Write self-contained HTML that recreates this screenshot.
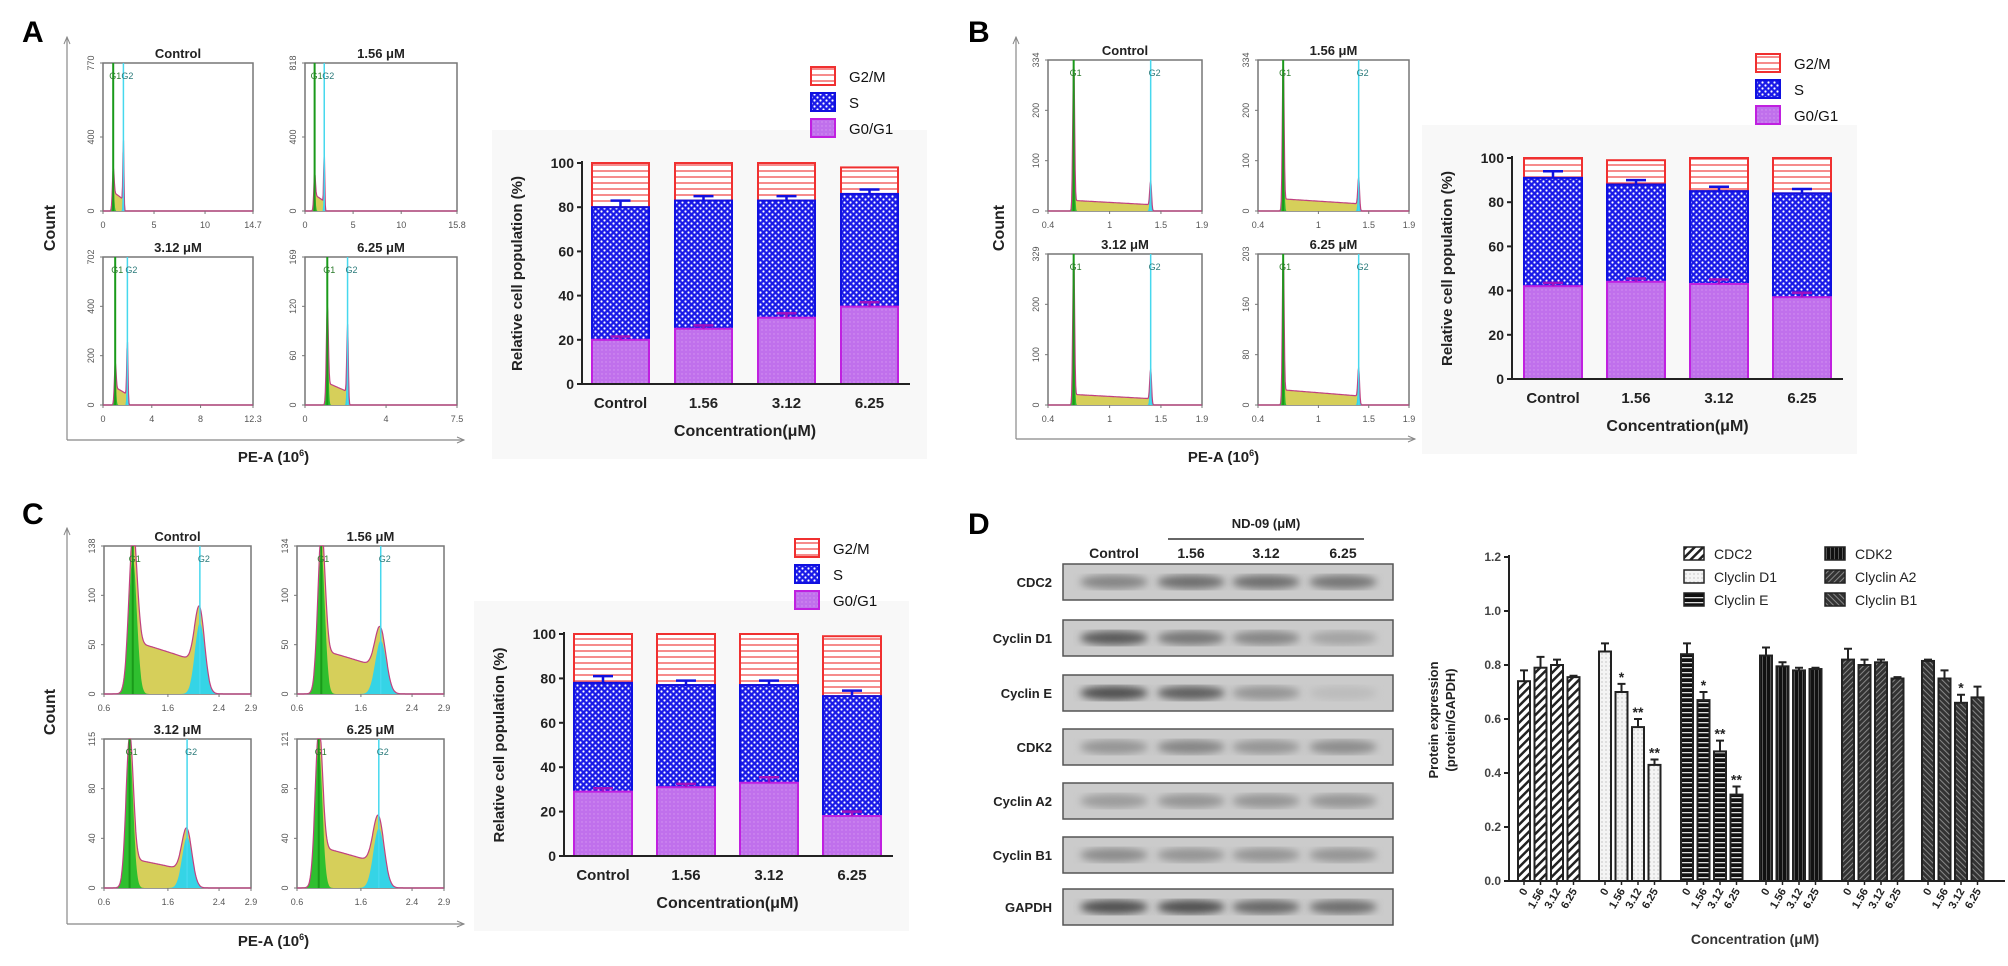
<!DOCTYPE html>
<html><head><meta charset="utf-8">
<style>
html,body{margin:0;padding:0;background:#fff;}
svg{display:block;font-family:"Liberation Sans",Arial,sans-serif;}
</style></head>
<body>
<svg id="fig" width="2008" height="966" viewBox="0 0 2008 966" xmlns="http://www.w3.org/2000/svg">
<defs>
<pattern id="pG2" width="6" height="6" patternUnits="userSpaceOnUse"><rect width="6" height="6" fill="#fff"/><line x1="0" y1="3" x2="6" y2="3" stroke="#f04040" stroke-width="1.2"/></pattern>
<pattern id="pS" width="6" height="6" patternUnits="userSpaceOnUse"><rect width="6" height="6" fill="#1a1ae8"/><circle cx="1.5" cy="1.5" r="1.1" fill="#fff"/><circle cx="4.5" cy="4.5" r="1.1" fill="#fff"/></pattern>
<pattern id="pG1" width="4" height="4" patternUnits="userSpaceOnUse"><rect width="4" height="4" fill="#c070ec"/><circle cx="2" cy="2" r="0.7" fill="#d596f2"/></pattern>
<pattern id="pCDC2" width="6" height="6" patternUnits="userSpaceOnUse" patternTransform="rotate(45)"><rect width="6" height="6" fill="#fff"/><rect width="2.5" height="6" fill="#222"/></pattern>
<pattern id="pD1" width="4" height="4" patternUnits="userSpaceOnUse"><rect width="4" height="4" fill="#f4f4f4"/><circle cx="2" cy="2" r="0.6" fill="#aaa"/></pattern>
<pattern id="pE" width="6" height="5" patternUnits="userSpaceOnUse"><rect width="6" height="5" fill="#111"/><rect y="2" width="6" height="1.3" fill="#ddd"/></pattern>
<pattern id="pCDK2" width="4" height="4" patternUnits="userSpaceOnUse"><rect width="4" height="4" fill="#111"/><rect x="2" width="0.8" height="4" fill="#666"/></pattern>
<pattern id="pA2" width="4" height="4" patternUnits="userSpaceOnUse" patternTransform="rotate(45)"><rect width="4" height="4" fill="#333"/><rect width="1" height="4" fill="#888"/></pattern>
<pattern id="pB1" width="4" height="4" patternUnits="userSpaceOnUse" patternTransform="rotate(-45)"><rect width="4" height="4" fill="#333"/><rect width="1" height="4" fill="#888"/></pattern>
<filter id="blur3"><feGaussianBlur stdDeviation="4"/></filter>
</defs>
</svg>
<script>
// ===== Data =====
const phases = ['G0/G1','S','G2/M'];
const concLabels = ['Control','1.56','3.12','6.25'];
// Panel A stacked bars (cumulative tops, %)
const aG1 = [20,25,30,35];
const aS  = [80,83,83,86];
const aG2 = [100,100,100,98];
const aG1err = [1.5,1.5,2,2];
const aSerr = [3,2,2,2];
// Panel B
const bG1 = [42,44,43,37];
const bS  = [91,88,85,84];
const bG2 = [100,99,100,100];
const bG1err = [1.5,1.5,2,2];
const bSerr = [3,2,2,2];
// Panel C
const cG1 = [29,31,33,18];
const cS  = [78,77,77,72];
const cG2 = [100,100,100,99];
const cG1err = [1.5,1.5,2.5,2];
const cSerr = [3,2,2,2.5];
const pctTicks = [0,20,40,60,80,100];
// Panel D protein expression
const proteins = ['CDC2','Clyclin D1','Clyclin E','CDK2','Clyclin A2','Clyclin B1'];
const doseLabels = ['0','1.56','3.12','6.25'];
const cdc2 = [0.74,0.79,0.80,0.755];
const cyclinD1 = [0.85,0.70,0.57,0.43];
const cyclinE = [0.84,0.67,0.48,0.32];
const cdk2 = [0.835,0.795,0.78,0.785];
const cyclinA2 = [0.82,0.80,0.81,0.75];
const cyclinB1 = [0.815,0.75,0.66,0.68];
const cdc2Err = [0.04,0.04,0.02,0.005];
const cyclinD1Err = [0.03,0.03,0.03,0.02];
const cyclinEErr = [0.04,0.03,0.04,0.03];
const cdk2Err = [0.03,0.015,0.01,0.005];
const cyclinA2Err = [0.04,0.02,0.01,0.005];
const cyclinB1Err = [0.005,0.03,0.03,0.04];
const cyclinD1Sig = ['','*','**','**'];
const cyclinESig = ['','*','**','**'];
const cyclinB1Sig = ['','','*',''];
const expTicks = [0,0.2,0.4,0.6,0.8,1.0,1.2];
// Western blot band intensities (0..1 darkness)
const blotRows = ['CDC2','Cyclin D1','Cyclin E','CDK2','Cyclin A2','Cyclin B1','GAPDH'];
const blotCDC2 = [0.45,0.6,0.6,0.55];
const blotD1 = [0.75,0.55,0.45,0.25];
const blotE = [0.8,0.7,0.35,0.08];
const blotCDK2 = [0.35,0.45,0.35,0.4];
const blotA2 = [0.3,0.35,0.35,0.35];
const blotB1 = [0.4,0.35,0.35,0.35];
const blotGAPDH = [0.8,0.8,0.65,0.6];
// Histogram parameters: [xmin,xmax,G1pos,G2pos,G1height,G2height,Slevel,G1sigma,G2sigma]
const histA = [[0,14.7,1.0,2.0,0.22,0.45,0.13,0.12,0.07],[0,15.8,1.0,2.0,0.2,0.38,0.11,0.12,0.07],[0,12.3,1.0,2.0,0.22,0.4,0.12,0.1,0.07],[0,7.5,1.1,2.1,0.6,0.5,0.15,0.07,0.05]];
const histB = [[0.4,1.9,0.65,1.4,1.0,0.18,0.07,0.012,0.012],[0.4,1.9,0.65,1.4,1.0,0.2,0.08,0.012,0.012],[0.4,1.9,0.65,1.4,1.0,0.22,0.07,0.012,0.012],[0.4,1.9,0.65,1.4,1.0,0.22,0.1,0.012,0.012]];
const histC = [[0.6,2.9,1.05,2.1,0.92,0.48,0.36,0.09,0.11],[0.6,2.9,0.98,1.91,0.96,0.36,0.3,0.08,0.12],[0.6,2.9,1.0,1.9,0.93,0.34,0.2,0.08,0.11],[0.6,2.9,0.94,1.88,0.95,0.4,0.28,0.08,0.12]];
const histTitles = ['Control','1.56 μM','3.12 μM','6.25 μM'];
const histXticksA = [[0,5,10,14.7],[0,5,10,15.8],[0,4,8,12.3],[0,4,7.5]];
const histYticksA = [['0','400','770'],['0','400','818'],['0','200','400','702'],['0','60','120','169']];
const histXticksB = [0.4,1,1.5,1.9];
const histYticksB = [['0','100','200','334'],['0','100','200','334'],['0','100','200','329'],['0','80','160','203']];
const histXticksC = [0.6,1.6,2.4,2.9];
const histYticksC = [['0','50','100','138'],['0','50','100','134'],['0','40','80','115'],['0','40','80','121']];

// ===== Helpers =====
const NS='http://www.w3.org/2000/svg';
const svg=document.getElementById('fig');
function mk(tag, attrs, parent, name){
  const e=document.createElementNS(NS,tag);
  for(const k in attrs) e.setAttribute(k,attrs[k]);
  
  
  (parent||svg).appendChild(e);
  return e;
}
function txt(x,y,s,size,parent,name,extra){
  const a=Object.assign({x:x,y:y,'font-size':size,'font-weight':'bold',fill:'#222'},extra||{});
  const t=mk('text',a,parent,name);
  t.textContent=s;
  return t;
}
function grp(name){ return mk('g',{},svg,name); }

// ===== Panel letters =====
txt(22,42,'A',30,svg,'panel-a-label',{fill:'#000'});
txt(968,42,'B',30,svg,'panel-b-label',{fill:'#000'});
txt(22,524,'C',30,svg,'panel-c-label',{fill:'#000'});
txt(968,534,'D',30,svg,'panel-d-label',{fill:'#000'});

// ===== Histograms =====
function histogram(g,bx,by,bw,bh,p,title,xt,yt,name){
  const [xmin,xmax,g1,g2,h1,h2,sl,s1,s2]=p;
  const X=v=>bx+(v-xmin)/(xmax-xmin)*bw;
  mk('rect',{x:bx,y:by,width:bw,height:bh,fill:'#fff',stroke:'#777','stroke-width':1.5},g,name+'-frame');
  txt(bx+bw/2,by-5,title,13,g,name+'-title',{'text-anchor':'middle'});
  const yOf=f=>by+bh-Math.min(f,1.0)*bh;
  const sig=z=>1/(1+Math.exp(-z));
  const N=300;
  let ptsAll=[],ptsG1=[],ptsG2=[];
  for(let i=0;i<=N;i++){
    const v=xmin+(xmax-xmin)*i/N;
    const a=h1*Math.exp(-Math.pow((v-g1)/s1,2));
    const b=h2*Math.exp(-Math.pow((v-g2)/s2,2));
    const t=Math.max(0,Math.min(1,(v-g1)/(g2-g1)));
    const s=sl*(1-0.4*t)*sig((v-g1)/(s1*0.5))*sig((g2-v)/(s2*0.5));
    ptsAll.push([X(v),yOf(a+b+s)]);ptsG1.push([X(v),yOf(a)]);ptsG2.push([X(v),yOf(b)]);
  }
  const toPath=pts=>'M'+bx+','+(by+bh)+' '+pts.map(q=>'L'+q[0].toFixed(1)+','+q[1].toFixed(1)).join(' ')+' L'+(bx+bw)+','+(by+bh)+'Z';
  mk('path',{d:toPath(ptsAll),fill:'#d6cf5a',stroke:'none'},g,name+'-s-phase-area');
  mk('path',{d:toPath(ptsG1),fill:'#2fbf2f',stroke:'none'},g,name+'-g1-peak');
  mk('path',{d:toPath(ptsG2),fill:'#35d4e6',stroke:'none'},g,name+'-g2-peak');
  mk('path',{d:'M'+ptsAll.map(q=>q[0].toFixed(1)+','+q[1].toFixed(1)).join(' L'),fill:'none',stroke:'#c04080','stroke-width':1.2},g,name+'-outline');
  mk('line',{x1:X(g1),y1:by,x2:X(g1),y2:by+bh,stroke:'#1a9a1a','stroke-width':2},g,name+'-g1-marker');
  mk('line',{x1:X(g2),y1:by,x2:X(g2),y2:by+bh,stroke:'#46d8ee','stroke-width':1.5},g,name+'-g2-marker');
  txt(X(g1)-4,by+16,'G1',9,g,name+'-g1-label',{fill:'#2a7a2a','font-weight':'normal'});
  txt(X(g2)-2,by+16,'G2',9,g,name+'-g2-label',{fill:'#2a7a7a','font-weight':'normal'});
  xt.forEach(v=>{
    mk('line',{x1:X(v),y1:by+bh,x2:X(v),y2:by+bh+3,stroke:'#777'},g,name+'-xtick');
    txt(X(v),by+bh+17,String(v),9,g,name+'-xtick-label',{'text-anchor':'middle','font-weight':'normal',fill:'#555'});
  });
  const n=yt.length;
  yt.forEach((s,i)=>{
    const yy=by+bh-bh*i/(n-1);
    mk('line',{x1:bx-3,y1:yy,x2:bx,y2:yy,stroke:'#777'},g,name+'-ytick');
    txt(bx-9,yy,s,9,g,name+'-ytick-label',{'text-anchor':'middle','font-weight':'normal',fill:'#555',transform:'rotate(-90 '+(bx-9)+' '+yy+')'});
  });
}
function histPanel(boxes,params,xtk,ytk,prefix,axX,axTop,axBot,axRight,peY,cntY){
  const g=grp(prefix+'-histograms');
  mk('line',{x1:axX,y1:axBot,x2:axX,y2:axTop,stroke:'#888','stroke-width':1.2},g,prefix+'-count-axis');
  mk('path',{d:`M${axX-3},${axTop+7} L${axX},${axTop} L${axX+3},${axTop+7}`,fill:'none',stroke:'#888'},g,prefix+'-count-arrow');
  mk('line',{x1:axX,y1:axBot,x2:axRight,y2:axBot,stroke:'#888','stroke-width':1.2},g,prefix+'-pe-axis');
  mk('path',{d:`M${axRight-7},${axBot-3} L${axRight},${axBot} L${axRight-7},${axBot+3}`,fill:'none',stroke:'#888'},g,prefix+'-pe-arrow');
  txt(axX-12,cntY,'Count',16,g,prefix+'-count-title',{'text-anchor':'middle',transform:`rotate(-90 ${axX-12} ${cntY})`});
  const pe=txt((axX+axRight)/2+8,peY,'PE-A (10',15,g,prefix+'-pe-title',{'text-anchor':'middle'});
  const sup=document.createElementNS(NS,'tspan');sup.setAttribute('font-size','9');sup.setAttribute('dy','-6');sup.textContent='6';pe.appendChild(sup);
  const cl=document.createElementNS(NS,'tspan');cl.setAttribute('dy','6');cl.textContent=')';pe.appendChild(cl);
  boxes.forEach((b,i)=>histogram(g,b[0],b[1],b[2],b[3],params[i],histTitles[i],Array.isArray(xtk[0])?xtk[i]:xtk,ytk[i],prefix+'-hist-'+i));
}
histPanel([[103,63,150,148],[305,63,152,148],[103,257,150,148],[305,257,152,148]],histA,histXticksA,histYticksA,'a',67,37,440,464,462,228);
histPanel([[1048,60,154,151],[1258,60,151,151],[1048,254,154,151],[1258,254,151,151]],histB,histXticksB,histYticksB,'b',1016,37,439,1415,462,228);
histPanel([[104,546,147,148],[297,546,147,148],[104,739,147,149],[297,739,147,149]],histC,histXticksC,histYticksC,'c',67,528,924,464,946,712);

// ===== Stacked bar charts =====
function stackChart(prefix,axX,y0,y100,firstX,pitch,bw,G1,S,G2,G1e,Se,legX,legY){
  const g=grp(prefix+'-stacked-chart');
  mk('rect',{x:axX-90,y:y100-33,width:435,height:y0+75-(y100-33),fill:'#f8f8f8'},g,prefix+'-chart-background');
  const Y=v=>y0-(y0-y100)*v/100;
  G1.forEach((v,i)=>{
    const x=firstX+i*pitch;
    mk('rect',{x:x,y:Y(G2[i]),width:bw,height:Y(S[i])-Y(G2[i]),fill:'url(#pG2)',stroke:'#f03030','stroke-width':2},g,prefix+'-bar-g2m-'+i);
    mk('rect',{x:x,y:Y(S[i]),width:bw,height:Y(v)-Y(S[i]),fill:'url(#pS)',stroke:'#1010e0','stroke-width':2},g,prefix+'-bar-s-'+i);
    mk('rect',{x:x,y:Y(v),width:bw,height:y0-Y(v),fill:'url(#pG1)',stroke:'#c020e0','stroke-width':2},g,prefix+'-bar-g0g1-'+i);
    const cx=x+bw/2;
    mk('path',{d:`M${cx},${Y(S[i])} V${Y(S[i]+Se[i])} M${cx-10},${Y(S[i]+Se[i])} H${cx+10}`,stroke:'#1010e0','stroke-width':2.5,fill:'none'},g,prefix+'-s-error-'+i);
    mk('path',{d:`M${cx},${Y(v)} V${Y(v+G1e[i])} M${cx-10},${Y(v+G1e[i])} H${cx+10}`,stroke:'#a010c0','stroke-width':2.5,fill:'none'},g,prefix+'-g1-error-'+i);
    txt(cx,y0+24,concLabels[i],15,g,prefix+'-xlabel-'+i,{'text-anchor':'middle'});
  });
  mk('line',{x1:axX,y1:y100-2,x2:axX,y2:y0,stroke:'#222','stroke-width':2},g,prefix+'-y-axis');
  mk('line',{x1:axX,y1:y0,x2:firstX+3*pitch+bw+12,y2:y0,stroke:'#222','stroke-width':2},g,prefix+'-x-axis');
  pctTicks.forEach(t=>{
    mk('line',{x1:axX-5,y1:Y(t),x2:axX,y2:Y(t),stroke:'#222','stroke-width':2},g,prefix+'-ytick');
    txt(axX-8,Y(t)+5,String(t),14,g,prefix+'-ytick-label',{'text-anchor':'end'});
  });
  const ly=(y0+y100)/2, lx=axX-60;
  txt(lx,ly,'Relative cell population (%)',15,g,prefix+'-y-axis-title',{'text-anchor':'middle',transform:`rotate(-90 ${lx} ${ly})`});
  txt(firstX+1.5*pitch+bw/2,y0+52,'Concentration(μM)',16,g,prefix+'-x-axis-title',{'text-anchor':'middle'});
  const fills=['url(#pG2)','url(#pS)','url(#pG1)'],strokes=['#f03030','#1010e0','#c020e0'],names=['G2/M','S','G0/G1'];
  names.forEach((n,i)=>{
    mk('rect',{x:legX,y:legY+i*26-9,width:24,height:18,fill:fills[i],stroke:strokes[i],'stroke-width':2},g,prefix+'-legend-swatch-'+i);
    txt(legX+38,legY+i*26+6,n,15,g,prefix+'-legend-entry-'+i,{'font-weight':'normal',fill:'#111'});
  });
}
stackChart('a',582,384,163,592,83,57,aG1,aS,aG2,aG1err,aSerr,811,76);
stackChart('b',1512,379,158,1524,83,58,bG1,bS,bG2,bG1err,bSerr,1756,63);
stackChart('c',564,856,634,574,83,58,cG1,cS,cG2,cG1err,cSerr,795,548);

// ===== Western blot =====
(function(){
  const g=grp('d-western-blot');
  txt(1266,528,'ND-09 (μM)',13,g,'blot-treatment-title',{'text-anchor':'middle'});
  mk('line',{x1:1168,y1:539,x2:1364,y2:539,stroke:'#333','stroke-width':1.5},g,'blot-treatment-line');
  const lanes=[1114,1191,1266,1343];
  concLabels.forEach((l,i)=>txt(lanes[i],558,l,14,g,'blot-lane-label-'+i,{'text-anchor':'middle'}));
  const rows=[blotCDC2,blotD1,blotE,blotCDK2,blotA2,blotB1,blotGAPDH];
  const ys=[582,638,693,747,801,855,907];
  rows.forEach((r,ri)=>{
    const cy=ys[ri];
    mk('rect',{x:1063,y:cy-18,width:330,height:36,fill:'#cbcbcb',stroke:'#555','stroke-width':1.5},g,'blot-strip-'+ri);
    r.forEach((d,li)=>{
      const shade=Math.round(200-d*150);
      mk('ellipse',{cx:lanes[li],cy:cy,rx:34,ry:7,fill:`rgb(${shade},${shade},${shade})`,filter:'url(#blur3)'},g,'blot-band-'+ri+'-'+li);
    });
    txt(1052,cy+5,blotRows[ri],13,g,'blot-row-label-'+ri,{'text-anchor':'end'});
  });
})();

// ===== Protein expression bar chart =====
(function(){
  const g=grp('d-protein-chart');
  const axX=1509,y0=881,yTop=557;
  const Y=v=>y0-(y0-yTop)*v/1.2;
  const groupX=[1518,1599,1681,1760,1842,1922];
  const pitch=16.5,bw=12;
  const series=[cdc2,cyclinD1,cyclinE,cdk2,cyclinA2,cyclinB1];
  const errs=[cdc2Err,cyclinD1Err,cyclinEErr,cdk2Err,cyclinA2Err,cyclinB1Err];
  const sigs=[null,cyclinD1Sig,cyclinESig,null,null,cyclinB1Sig];
  const fills=['url(#pCDC2)','url(#pD1)','url(#pE)','url(#pCDK2)','url(#pA2)','url(#pB1)'];
  series.forEach((s,gi)=>{
    s.forEach((v,i)=>{
      const x=groupX[gi]+i*pitch, cx=x+bw/2;
      mk('path',{d:`M${cx},${Y(v)} V${Y(v+errs[gi][i])} M${cx-4},${Y(v+errs[gi][i])} H${cx+4}`,stroke:'#222','stroke-width':2,fill:'none'},g,'d-error-'+gi+'-'+i);
      mk('rect',{x:x,y:Y(v),width:bw,height:y0-Y(v),fill:fills[gi],stroke:'#222','stroke-width':2},g,'d-bar-'+gi+'-'+i);
      if(sigs[gi]&&sigs[gi][i]) txt(cx,Y(v+errs[gi][i])-2,sigs[gi][i],14,g,'d-significance-'+gi+'-'+i,{'text-anchor':'middle'});
      mk('line',{x1:cx,y1:y0,x2:cx,y2:y0+4,stroke:'#222','stroke-width':1.5},g,'d-xtick');
      txt(cx+4,y0+10,doseLabels[i],11,g,'d-xtick-label-'+gi+'-'+i,{'text-anchor':'end',transform:`rotate(-60 ${cx+4} ${y0+10})`});
    });
  });
  mk('line',{x1:axX,y1:yTop-2,x2:axX,y2:y0,stroke:'#222','stroke-width':2},g,'d-y-axis');
  mk('line',{x1:axX,y1:y0,x2:2005,y2:y0,stroke:'#222','stroke-width':2},g,'d-x-axis');
  expTicks.forEach(t=>{
    mk('line',{x1:axX-5,y1:Y(t),x2:axX,y2:Y(t),stroke:'#222','stroke-width':2},g,'d-ytick');
    txt(axX-8,Y(t)+4,t.toFixed(1),12,g,'d-ytick-label',{'text-anchor':'end',fill:'#444'});
  });
  txt(1438,720,'Protein expression',13,g,'d-y-axis-title',{'text-anchor':'middle',transform:'rotate(-90 1438 720)'});
  txt(1455,720,'(protein/GAPDH)',13,g,'d-y-axis-title-2',{'text-anchor':'middle',transform:'rotate(-90 1455 720)'});
  txt(1755,944,'Concentration (μM)',14,g,'d-x-axis-title',{'text-anchor':'middle',fill:'#333'});
  const lx=[1684,1684,1684,1825,1825,1825],ly=[554,577,600,554,577,600];
  proteins.forEach((p,i)=>{
    mk('rect',{x:lx[i],y:ly[i]-7,width:20,height:13,fill:fills[i],stroke:'#222','stroke-width':1.5},g,'d-legend-swatch-'+i);
    txt(lx[i]+30,ly[i]+5,p,14,g,'d-legend-entry-'+i,{'font-weight':'normal',fill:'#222'});
  });
})();
</script>
</body></html>
